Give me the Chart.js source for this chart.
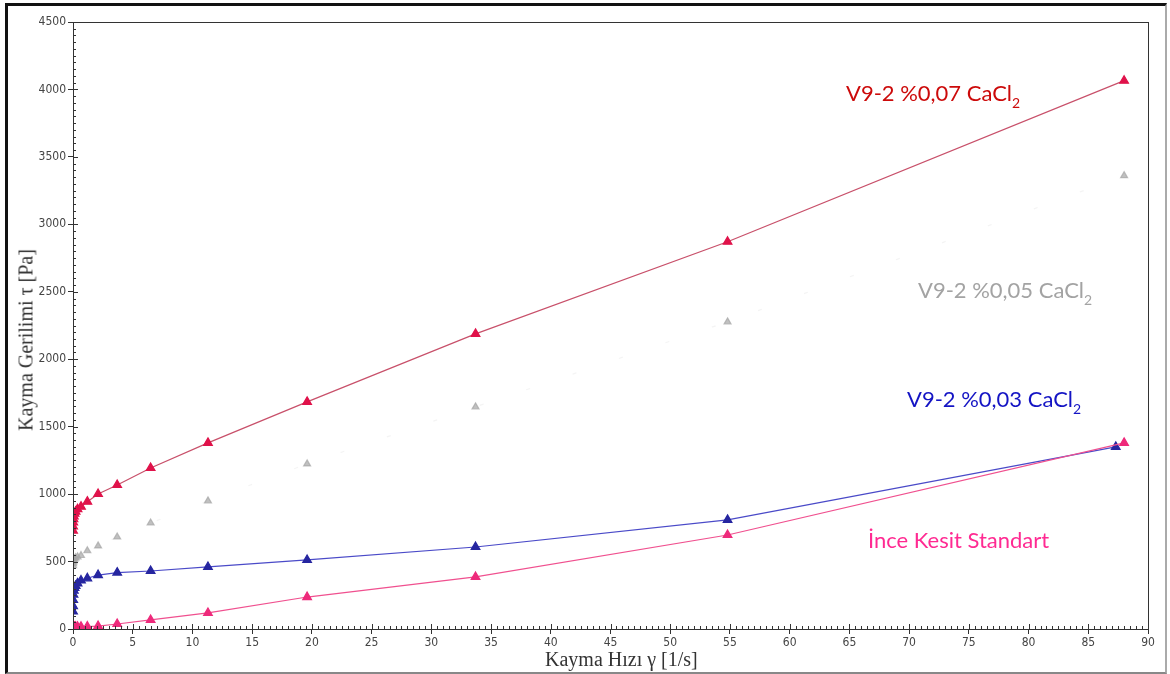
<!DOCTYPE html>
<html>
<head>
<meta charset="utf-8">
<title>Kayma Gerilimi - Kayma Hızı</title>
<script src="https://cdn.jsdelivr.net/npm/chart.js@4.4.1/dist/chart.umd.min.js"></script>
<style>
  html, body { margin: 0; padding: 0; background: #fff; }
  #frame {
    position: absolute; left: 5px; top: 3px; width: 1157px; height: 666px;
    border-left: 3px solid #111; border-top: 3px solid #111;
    border-right: 2px solid #aaa; border-bottom: 2px solid #888;
  }
  #wrap { position: absolute; left: 0; top: 0; width: 1170px; height: 674px; }
  .lbl { position: absolute; font-family: Lato, "Open Sans", sans-serif; font-size: 22px; line-height: 22px; white-space: nowrap; }
  .lbl span { font-size: 14px; position: relative; top: 7px; }
  .ttl { position: absolute; font-family: "Liberation Serif", "DejaVu Serif", serif; font-size: 20px; color: #333; white-space: nowrap; }
</style>
</head>
<body>
<div id="frame"></div>
<div id="wrap"><canvas id="flowChart" width="1170" height="674"></canvas></div>
<div class="lbl" style="left:846px; top:82px; color:#cc0a0a;">V9-2 %0,07 CaCl<span>2</span></div>
<div class="lbl" style="left:918px; top:279px; color:#a3a3a3;">V9-2 %0,05 CaCl<span>2</span></div>
<div class="lbl" style="left:907px; top:388px; color:#1414c4;">V9-2 %0,03 CaCl<span>2</span></div>
<div class="lbl" style="left:868px; top:529px; color:#ff2a92;">İnce Kesit Standart</div>
<div class="ttl" style="left:545px; top:648px;">Kayma Hızı γ [1/s]</div>
<div class="ttl" style="left:26px; top:340px; transform: translate(-50%, -50%) rotate(-90deg);">Kayma Gerilimi τ [Pa]</div>
<script>
// shear rate steps of the rheometer run [1/s]
const shearRate = [0.005, 0.01, 0.02, 0.04, 0.07, 0.13, 0.22, 0.38, 0.67, 1.2, 2.1, 3.7, 6.5, 11.3, 19.6, 33.7, 54.8, 88.0];
const shearRateBlue = [0.005, 0.01, 0.02, 0.04, 0.07, 0.13, 0.22, 0.38, 0.67, 1.2, 2.1, 3.7, 6.5, 11.3, 19.6, 33.7, 54.8, 87.3];

// shear stress [Pa]
const cacl07 = [730, 760, 790, 815, 835, 855, 870, 888, 907, 944, 1001, 1068, 1194, 1380, 1684, 2188, 2871, 4065];
const cacl05 = [470, 485, 495, 505, 512, 520, 528, 535, 545, 580, 616, 682, 786, 950, 1224, 1647, 2277, 3361];
const cacl03 = [130, 170, 215, 255, 285, 305, 320, 338, 360, 376, 400, 418, 430, 460, 512, 608, 809, 1350];
const standart = [12, 14, 15, 15, 16, 16, 17, 17, 17, 18, 22, 37, 67, 119, 237, 386, 697, 1380];

const xTicks = [0, 5, 10, 15, 20, 25, 30, 35, 40, 45, 50, 55, 60, 65, 70, 75, 80, 85, 90];
const yTicks = [0, 500, 1000, 1500, 2000, 2500, 3000, 3500, 4000, 4500];

function toPoints(xs, ys) {
    return xs.map((x, i) => ({ x: x, y: ys[i] }));
}

function series(data, line, marker, extra) {
    return Object.assign({
        data: data,
        borderColor: line,
        borderWidth: 1.2,
        backgroundColor: marker,
        pointBackgroundColor: marker,
        pointBorderColor: marker,
        pointStyle: 'triangle',
        pointRadius: 5,
        tension: 0,
        fill: false
    }, extra || {});
}

// frame around the plot plus the small inner ticks
const plotFrame = {
    id: 'plotFrame',
    afterDraw(chart) {
        const ctx = chart.ctx;
        const a = chart.chartArea;
        const xs = chart.scales.x, ys = chart.scales.y;
        ctx.save();
        ctx.strokeStyle = '#333';
        ctx.lineWidth = 1;
        ctx.strokeRect(a.left + 0.5, a.top + 0.5, a.right - a.left, a.bottom - a.top);
        ctx.beginPath();
        for (let v = 0; v <= 4500; v += 50) {
            const p = Math.round(ys.getPixelForValue(v)) + 0.5;
            const len = v % 500 === 0 ? 5 : 3;
            ctx.moveTo(a.left, p);
            ctx.lineTo(a.left + len, p);
        }
        for (let v = 0; v <= 90; v += 0.5) {
            const p = Math.round(xs.getPixelForValue(v)) + 0.5;
            const len = v % 5 === 0 ? 5 : 3;
            ctx.moveTo(p, a.bottom);
            ctx.lineTo(p, a.bottom - len);
        }
        ctx.stroke();
        ctx.restore();
    }
};

const tickFont = { family: '"Liberation Sans Narrow", "DejaVu Sans Condensed", sans-serif', size: 12 };

const ctx = document.getElementById('flowChart').getContext('2d');
const flowChart = new Chart(ctx, {
    type: 'line',
    data: {
        datasets: [
            series(toPoints(shearRate, cacl05), 'rgba(200,200,200,0.2)', 'rgba(165,165,165,0.7)', { borderDash: [4, 45], pointRadius: 4 }),
            series(toPoints(shearRate, standart), '#f0508f', '#ee2a7b'),
            series(toPoints(shearRateBlue, cacl03), '#4a4ac8', '#2626a0'),
            series(toPoints(shearRate, cacl07), '#c8506a', '#e0124a')
        ]
    },
    options: {
        responsive: false,
        animation: false,
        layout: { padding: { left: 13, top: 22, right: 22, bottom: 10 } },
        plugins: { legend: { display: false }, tooltip: { enabled: false } },
        scales: {
            x: {
                type: 'linear',
                min: 0, max: 90,
                afterBuildTicks: (s) => { s.ticks = xTicks.map(v => ({ value: v })); },
                afterFit: (s) => { s.height = 35; },
                grid: { drawOnChartArea: false, drawTicks: true, tickLength: 5, color: '#333' },
                border: { display: false },
                ticks: { color: '#444', padding: 2, maxRotation: 0, font: tickFont, callback: (v) => String(v) }
            },
            y: {
                min: 0, max: 4500,
                afterBuildTicks: (s) => { s.ticks = yTicks.map(v => ({ value: v })); },
                afterFit: (s) => { s.width = 60; },
                grid: { drawOnChartArea: false, drawTicks: true, tickLength: 5, color: '#333' },
                border: { display: false },
                ticks: { color: '#444', padding: 2, font: tickFont, callback: (v) => String(v) }
            }
        }
    },
    plugins: [plotFrame]
});
</script>
</body>
</html>
